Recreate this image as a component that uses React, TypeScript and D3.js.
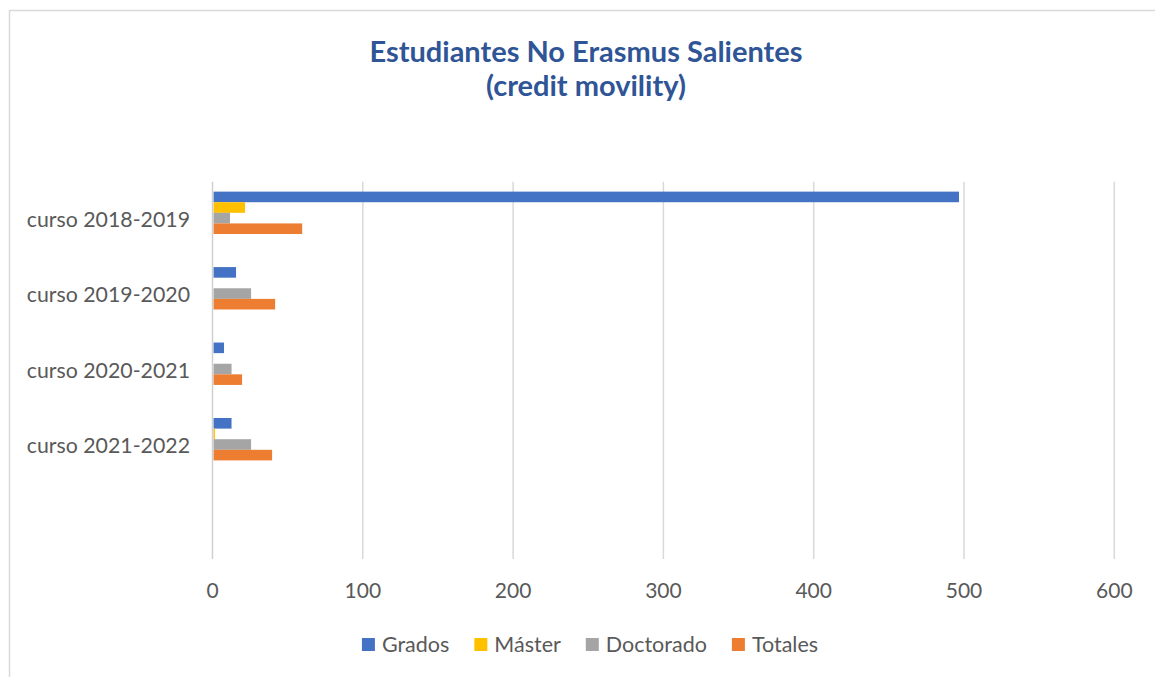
import * as d3 from 'd3';
import React, { useRef, useEffect } from 'react';

const categories = ["curso 2018-2019", "curso 2019-2020", "curso 2020-2021", "curso 2021-2022"];
const seriesNames = ["Grados", "Máster", "Doctorado", "Totales"];
const grados = [496, 15, 7, 12];
const master = [21, 0, 0, 1];
const doctorado = [11, 25, 12, 25];
const totales = [59, 41, 19, 39];
const xTicks = [0, 100, 200, 300, 400, 500, 600];

const colors = ["#4472C4", "#FFC000", "#A5A5A5", "#ED7D31"];

export default function App() {
    const ref = useRef<SVGSVGElement>(null);
    const width = 1155;
    const height = 677;

    useEffect(() => {
        drawChart();
    }, []);

    function drawChart() {
        const svg = d3.select(ref.current);
        svg.selectAll("*").remove();

        const font = "Lato, 'Open Sans', sans-serif";

        // outer frame (only left/top visible)
        svg.append("rect")
            .attr("x", 9.5).attr("y", 10.5)
            .attr("width", 1300).attr("height", 800)
            .attr("fill", "white")
            .attr("stroke", "#d9d9d9")
            .attr("stroke-width", 1.5);

        // title
        const title = svg.append("text")
            .attr("text-anchor", "middle")
            .attr("fill", "#2F5597")
            .attr("font-family", font)
            .attr("font-weight", "bold")
            .attr("font-size", 29);
        title.append("tspan").attr("x", 586).attr("y", 62).text("Estudiantes No Erasmus Salientes");
        title.append("tspan").attr("x", 586).attr("y", 96).text("(credit movility)");

        const x = d3.scaleLinear().domain([0, 600]).range([212.5, 1114.3]);
        const y = d3.scaleBand<string>()
            .domain([...categories, ""])
            .range([181.7, 559]);
        const inner = d3.scaleBand<string>()
            .domain(seriesNames)
            .range([0, y.bandwidth()])
            .paddingOuter(1.56)
            .align(0.3);

        // gridlines
        svg.append("g")
            .selectAll("line")
            .data(xTicks.slice(1))
            .enter()
            .append("line")
            .attr("x1", d => x(d)).attr("x2", d => x(d))
            .attr("y1", 181.7).attr("y2", 559)
            .attr("stroke", "#d9d9d9")
            .attr("stroke-width", 1.5);

        // tick labels
        svg.append("g")
            .selectAll("text")
            .data(xTicks)
            .enter()
            .append("text")
            .attr("x", d => x(d))
            .attr("y", 591)
            .attr("dy", "0.35em")
            .attr("text-anchor", "middle")
            .attr("fill", "#595959")
            .attr("font-family", font)
            .attr("font-size", 21)
            .text(d => d);

        // bars
        const seriesValues = [grados, master, doctorado, totales];
        seriesNames.forEach((name, si) => {
            svg.append("g")
                .selectAll("rect")
                .data(seriesValues[si])
                .enter()
                .append("rect")
                .attr("x", x(0) + 1)
                .attr("y", (d, i) => (y(categories[i]) as number) + (inner(name) as number))
                .attr("width", d => Math.max(0, x(d) - x(0)))
                .attr("height", inner.bandwidth())
                .attr("fill", colors[si]);
        });

        // category axis line
        svg.append("line")
            .attr("x1", x(0)).attr("x2", x(0))
            .attr("y1", 181.7).attr("y2", 559)
            .attr("stroke", "#d0d0d0")
            .attr("stroke-width", 1.5);

        // category labels
        svg.append("g")
            .selectAll("text")
            .data(categories)
            .enter()
            .append("text")
            .attr("x", 190)
            .attr("y", d => (y(d) as number) + y.bandwidth() / 2)
            .attr("dy", "0.35em")
            .attr("text-anchor", "end")
            .attr("fill", "#595959")
            .attr("font-family", font)
            .attr("font-size", 21.3)
            .text(d => d);

        // legend
        const legend = svg.append("g");
        let lx = 0;
        seriesNames.forEach((name, i) => {
            const item = legend.append("g").attr("transform", `translate(${lx},0)`);
            item.append("rect")
                .attr("x", 0).attr("y", 638)
                .attr("width", 13).attr("height", 13)
                .attr("fill", colors[i]);
            const t = item.append("text")
                .attr("x", 20).attr("y", 644.5)
                .attr("dy", "0.35em")
                .attr("fill", "#595959")
                .attr("font-family", font)
                .attr("font-size", 21.5)
                .text(name);
            const w = (t.node() as SVGTextElement).getComputedTextLength();
            lx += 20 + w + 25;
        });
        const totalW = lx - 25;
        legend.attr("transform", `translate(${590 - totalW / 2},0)`);
    }

    return <svg ref={ref} width={width} height={height}
        style={{ position: "absolute", left: 0, top: 0 }} />;
}
